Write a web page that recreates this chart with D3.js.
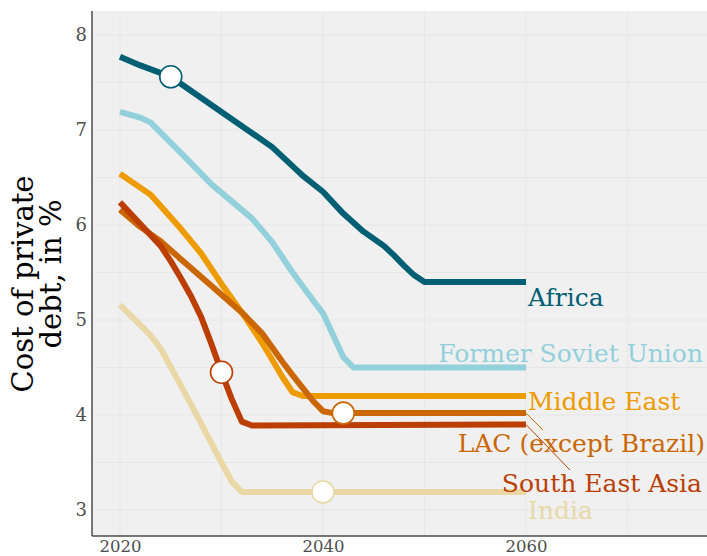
<!DOCTYPE html>
<html>
<head>
<meta charset="utf-8">
<script src="https://cdn.jsdelivr.net/npm/d3@7"></script>
<style>
  html, body { margin: 0; padding: 0; background: #ffffff; }
  svg { display: block; }
  text { font-family: "DejaVu Serif", "Liberation Serif", serif; }
</style>
</head>
<body>
<svg id="chart" width="707" height="556"></svg>
<script>
// ---------------- DATA ----------------
const seriesNames = ["Africa", "Former Soviet Union", "Middle East", "LAC (except Brazil)", "South East Asia", "India"];

const africaYears  = [2020, 2022, 2025, 2030, 2035, 2038, 2040, 2042, 2044, 2046, 2047, 2048, 2049, 2050, 2060];
const africaValues = [7.77, 7.68, 7.56, 7.19, 6.82, 6.52, 6.35, 6.12, 5.93, 5.78, 5.68, 5.57, 5.47, 5.40, 5.40];

const fsuYears  = [2020, 2022, 2023, 2026, 2029, 2033, 2035, 2037, 2039, 2040, 2042, 2043, 2060];
const fsuValues = [7.19, 7.13, 7.08, 6.76, 6.43, 6.07, 5.82, 5.50, 5.21, 5.07, 4.61, 4.50, 4.50];

const meYears  = [2020, 2023, 2024, 2026, 2028, 2030, 2032, 2034, 2036, 2037, 2038, 2060];
const meValues = [6.54, 6.32, 6.20, 5.96, 5.70, 5.38, 5.08, 4.76, 4.40, 4.24, 4.20, 4.20];

const lacYears  = [2020, 2022, 2024, 2026, 2029, 2032, 2034, 2036, 2037, 2039, 2040, 2041, 2060];
const lacValues = [6.16, 5.98, 5.83, 5.64, 5.36, 5.08, 4.86, 4.56, 4.42, 4.15, 4.04, 4.02, 4.02];

const seaYears  = [2020, 2022, 2024, 2025, 2026, 2027, 2028, 2029, 2030, 2031, 2032, 2033, 2060];
const seaValues = [6.24, 6.01, 5.78, 5.62, 5.44, 5.25, 5.03, 4.75, 4.45, 4.17, 3.93, 3.89, 3.90];

const indiaYears  = [2020, 2023, 2024, 2026, 2028, 2030, 2031, 2032, 2060];
const indiaValues = [5.16, 4.84, 4.70, 4.31, 3.91, 3.50, 3.30, 3.19, 3.19];

// highlighted points (year) per series, null = none
const markerYears = [2025, null, null, 2042, 2030, 2040];

const xTicks = [2020, 2040, 2060];
const xTickLabels = ["2020", "2040", "2060"];
const yTicks = [3, 4, 5, 6, 7, 8];
const yTickLabels = ["3", "4", "5", "6", "7", "8"];

// ---------------- STYLE / LAYOUT ----------------
const colors = ["#005f73", "#92d0db", "#ee9b00", "#ca6702", "#bb3e03", "#e9d8a6"];
const drawOrder = [0, 1, 2, 3, 5, 4];

const panel = { left: 92, right: 707, top: 11, bottom: 536 };

const x = d3.scaleLinear().domain([2020, 2060]).range([120, 526]);
const y = d3.scaleLinear().domain([3, 8]).range([510, 35]);

// label layout: anchor, x, baseline y (pixels), optional leader segment endpoint
const labelLayout = [
  { anchor: "start", x: 528, y: 306 },
  { anchor: "end",   x: 703, y: 362 },
  { anchor: "start", x: 528, y: 410 },
  { anchor: "end",   x: 705, y: 452, seg: [543, 430] },
  { anchor: "end",   x: 702, y: 492, seg: [570, 470] },
  { anchor: "start", x: 528, y: 519 }
];

const allYears = [africaYears, fsuYears, meYears, lacYears, seaYears, indiaYears];
const allValues = [africaValues, fsuValues, meValues, lacValues, seaValues, indiaValues];
const series = seriesNames.map((name, i) => ({
  name,
  color: colors[i],
  points: allYears[i].map((yr, j) => ({ year: yr, value: allValues[i][j] })),
  marker: markerYears[i]
}));

function valueAt(s, yr) {
  const pts = s.points;
  for (let k = 0; k < pts.length - 1; k++) {
    if (yr >= pts[k].year && yr <= pts[k + 1].year) {
      const t = (yr - pts[k].year) / (pts[k + 1].year - pts[k].year);
      return pts[k].value + t * (pts[k + 1].value - pts[k].value);
    }
  }
  return pts[pts.length - 1].value;
}

// ---------------- DRAW ----------------
const svg = d3.select("#chart");

svg.append("rect")
  .attr("x", panel.left).attr("y", panel.top)
  .attr("width", panel.right - panel.left).attr("height", panel.bottom - panel.top)
  .attr("fill", "#f0f0f0");

const gridColor = "#e6e6e6";
const xGrid = [2020, 2030, 2040, 2050, 2060, 2070];
const yGrid = [3, 3.5, 4, 4.5, 5, 5.5, 6, 6.5, 7, 7.5, 8];
svg.append("g").selectAll("line").data(xGrid).join("line")
  .attr("x1", d => x(d)).attr("x2", d => x(d))
  .attr("y1", panel.top).attr("y2", panel.bottom)
  .attr("stroke", gridColor).attr("stroke-width", 1);
svg.append("g").selectAll("line").data(yGrid).join("line")
  .attr("x1", panel.left).attr("x2", panel.right)
  .attr("y1", d => y(d)).attr("y2", d => y(d))
  .attr("stroke", gridColor).attr("stroke-width", 1);

// axes
const xAxis = d3.axisBottom(x).tickValues(xTicks).tickFormat((d, i) => xTickLabels[i]).tickSize(0).tickPadding(0);
const gx = svg.append("g").attr("transform", `translate(0,${panel.bottom})`).call(xAxis);
gx.select(".domain").remove();
gx.selectAll("text")
  .attr("y", 16).attr("dy", null)
  .attr("fill", "#4d4d4d").attr("font-size", 16.5)
  .attr("font-family", "DejaVu Serif, serif");

const yAxis = d3.axisLeft(y).tickValues(yTicks).tickFormat((d, i) => yTickLabels[i]).tickSize(0).tickPadding(0);
const gy = svg.append("g").attr("transform", `translate(87,0)`).call(yAxis);
gy.select(".domain").remove();
gy.selectAll("text")
  .attr("x", 0)
  .attr("fill", "#4d4d4d").attr("font-size", 18)
  .attr("font-family", "DejaVu Serif, serif");

svg.append("line")
  .attr("x1", panel.left).attr("x2", panel.left)
  .attr("y1", panel.top).attr("y2", panel.bottom)
  .attr("stroke", "#4d4d4d").attr("stroke-width", 1.5);
svg.append("line")
  .attr("x1", panel.left).attr("x2", panel.right)
  .attr("y1", panel.bottom).attr("y2", panel.bottom)
  .attr("stroke", "#4d4d4d").attr("stroke-width", 1.5);

// lines
const line = d3.line().x(d => x(d.year)).y(d => y(d.value));
svg.append("g").selectAll("path").data(drawOrder.map(i => series[i])).join("path")
  .attr("d", d => line(d.points))
  .attr("fill", "none")
  .attr("stroke", d => d.color)
  .attr("stroke-width", 6)
  .attr("stroke-linejoin", "round")
  .attr("stroke-linecap", "butt");

// leader segments
series.forEach((s, i) => {
  const L = labelLayout[i];
  if (L.seg) {
    const last = s.points[s.points.length - 1];
    svg.append("line")
      .attr("x1", x(last.year)).attr("y1", y(last.value))
      .attr("x2", L.seg[0]).attr("y2", L.seg[1])
      .attr("stroke", s.color).attr("stroke-width", 1);
  }
});

// markers
svg.append("g").selectAll("circle").data(series.filter(s => s.marker !== null)).join("circle")
  .attr("cx", d => x(d.marker))
  .attr("cy", d => y(valueAt(d, d.marker)))
  .attr("r", 11)
  .attr("fill", "#ffffff")
  .attr("stroke", d => d.color)
  .attr("stroke-width", 1.6);

// labels
svg.append("g").selectAll("text").data(series).join("text")
  .attr("x", (d, i) => labelLayout[i].x)
  .attr("y", (d, i) => labelLayout[i].y)
  .attr("text-anchor", (d, i) => labelLayout[i].anchor)
  .attr("fill", d => d.color)
  .attr("font-size", 25)
  .text(d => d.name);

// y title
const yTitle = svg.append("g");
yTitle.append("text")
  .attr("transform", "translate(33,284) rotate(-90)")
  .attr("text-anchor", "middle")
  .attr("font-size", 29)
  .attr("fill", "#000")
  .text("Cost of private");
yTitle.append("text")
  .attr("transform", "translate(61,274) rotate(-90)")
  .attr("text-anchor", "middle")
  .attr("font-size", 29)
  .attr("fill", "#000")
  .text("debt, in %");
</script>
</body>
</html>
